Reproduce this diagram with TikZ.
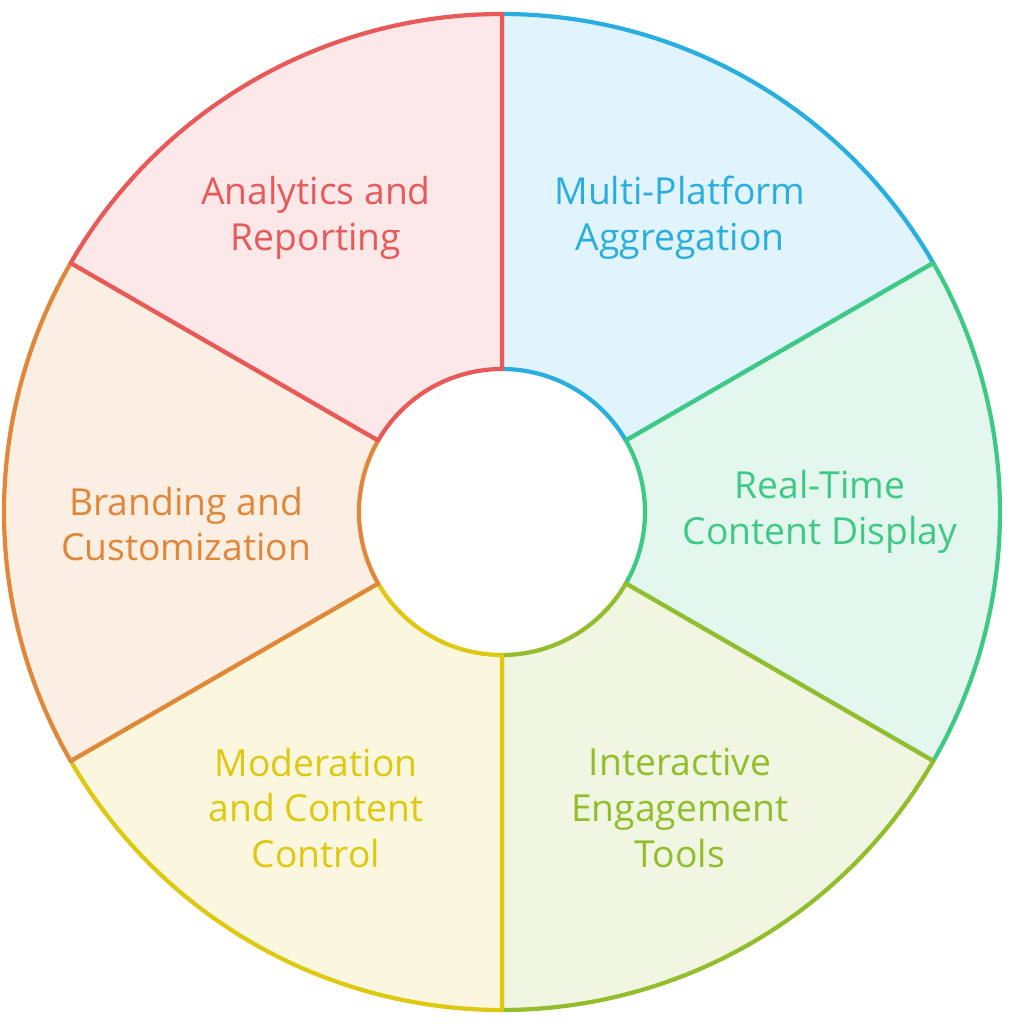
\documentclass[tikz,border=0pt]{standalone}
\usepackage{fontspec}
\setmainfont{Open Sans}
\usetikzlibrary{positioning,calc}
\definecolor{cRed}{HTML}{E85A5A}
\definecolor{cBlue}{HTML}{2AAEE0}
\definecolor{cGreen}{HTML}{3EC986}
\definecolor{cLime}{HTML}{93BD2C}
\definecolor{cYellow}{HTML}{DEC812}
\definecolor{cOrange}{HTML}{E0873A}
\tikzset{lbl/.style={font=\fontsize{10.6}{13}\selectfont, align=center}}
\tikzset{sector/.style={line width=1.2pt, line join=round}}
\begin{document}
\begin{tikzpicture}
  \useasboundingbox (0,0) rectangle (10.13,10.24);
  \coordinate (O) at (5.02,5.12);
  % sectors: start angle / end angle / colour
  \foreach \a/\b/\c in {30/90/cBlue, -30/30/cGreen, -90/-30/cLime,
                        -150/-90/cYellow, 150/210/cOrange, 90/150/cRed}{
    \filldraw[sector, draw=\c, fill=\c!14]
      ($(O)+(\a:1.43)$) -- ($(O)+(\a:4.98)$) arc[start angle=\a, end angle=\b, radius=4.98]
      -- ($(O)+(\b:1.43)$) arc[start angle=\b, end angle=\a, radius=1.43] -- cycle;
  }
  \node[lbl, text=cBlue]   (multi)  at ($(O)+(1.78,2.94)$)   {Multi-Platform\\Aggregation};
  \node[lbl, text=cGreen]  (real)   at ($(O)+(3.18,0)$)      {Real-Time\\Content Display};
  \node[lbl, text=cLime]   (inter)  at ($(O)+(1.78,-2.96)$)  {Interactive\\Engagement\\Tools};
  \node[lbl, text=cYellow] (moder)  at ($(O)+(-1.86,-2.96)$) {Moderation\\and Content\\Control};
  \node[lbl, text=cOrange] (brand)  at ($(O)+(-3.16,-0.12)$) {Branding and\\Customization};
  \node[lbl, text=cRed]    (analyt) at ($(O)+(-1.86,2.94)$)  {Analytics and\\Reporting};
\end{tikzpicture}
\end{document}
